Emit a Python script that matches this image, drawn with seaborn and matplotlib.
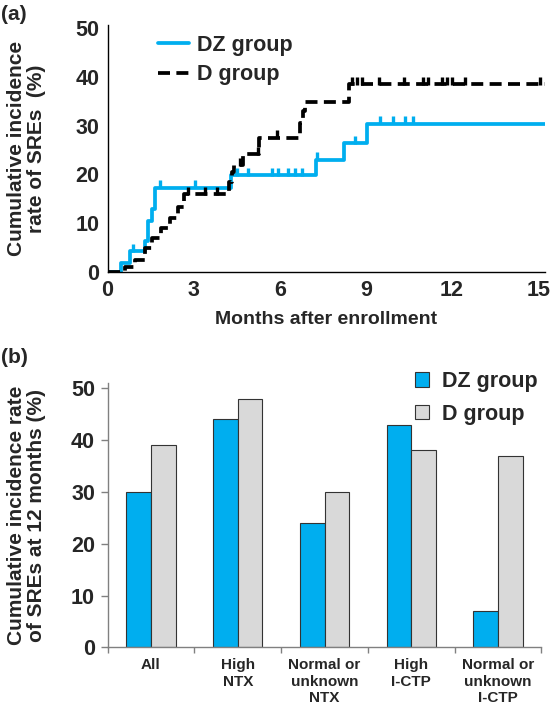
import numpy as np
import pandas as pd
import matplotlib
matplotlib.use("Agg")
import matplotlib.pyplot as plt
import seaborn as sns
from matplotlib.ticker import MultipleLocator, FixedLocator

# (a) cumulative incidence step curves (months, %)
dz_t = [0, 0.48, 0.77, 1.29, 1.40, 1.53, 1.65, 4.30, 7.25, 8.24, 9.04, 15.24]
dz_y = [0, 1.8, 4.2, 6.4, 10.5, 12.9, 17.3, 19.8, 23.0, 26.4, 30.4, 30.4]
d_t = [0, 0.60, 0.97, 1.29, 1.55, 1.85, 2.16, 2.45, 2.65, 4.24, 4.33, 4.42, 4.73,
       5.28, 6.70, 6.80, 6.88, 8.42, 15.24]
d_y = [0, 1.0, 2.4, 4.8, 7.0, 8.9, 11.1, 13.3, 15.9, 18.5, 20.5, 21.9, 24.1,
       27.5, 30.5, 33.0, 34.8, 38.5, 38.5]

# censored observations
dz_cens_t = [0.90, 1.83, 3.05, 4.50, 4.90, 5.72, 5.95, 6.30, 6.53, 6.76, 7.29,
             8.62, 9.49, 9.95, 10.36, 10.65]
dz_cens_y = [4.2, 17.3, 17.3, 19.8, 19.8, 19.8, 19.8, 19.8, 19.8, 19.8, 23.0,
             26.4, 30.4, 30.4, 30.4, 30.4]
d_cens_t = [2.81, 3.39, 3.80, 4.60, 5.24, 5.90, 8.50, 8.68, 8.85, 9.47, 10.33,
            10.99, 11.17, 11.64, 11.82, 11.99, 12.45, 15.05]
d_cens_y = [15.9, 15.9, 15.9, 21.9, 24.1, 27.5, 38.5, 38.5, 38.5, 38.5, 38.5,
            38.5, 38.5, 38.5, 38.5, 38.5, 38.5, 38.5]

# (b) cumulative incidence at 12 months by subgroup
categories = ["All", "High\nNTX", "Normal or\nunknown\nNTX", "High\nI-CTP",
              "Normal or\nunknown\nI-CTP"]
dz_rate = [30, 44, 24, 43, 7]
d_rate = [39, 48, 30, 38, 37]

blue = "#00AEEF"
grey = "#D9D9D9"

sns.set_theme(style="white")
plt.rcParams["font.family"] = ["Liberation Sans", "DejaVu Sans"]
plt.rcParams["font.weight"] = "bold"
plt.rcParams["axes.labelweight"] = "bold"

fig = plt.figure(figsize=(5.53, 7.09), dpi=100)
ax1 = fig.add_axes([0.1946, 0.6168, 0.791, 0.3479])
ax2 = fig.add_axes([0.1946, 0.0870, 0.7845, 0.3724])

# ---- panel (a)
sns.lineplot(x=dz_t, y=dz_y, ax=ax1, color=blue, lw=2.7, drawstyle="steps-post",
             label="DZ group")
sns.lineplot(x=d_t, y=d_y, ax=ax1, color="black", lw=2.7, drawstyle="steps-post",
             linestyle=(0, (3.2, 1.7)), label="D group")
ax1.plot(dz_cens_t, np.array(dz_cens_y) + 0.7, ls="none", marker="|", ms=6,
         mew=2.4, color=blue)
ax1.plot(d_cens_t, np.array(d_cens_y) + 0.7, ls="none", marker="|", ms=6,
         mew=2.4, color="black")

ax1.set_xlim(0, 15.24)
ax1.set_ylim(0, 50.7)
ax1.xaxis.set_major_locator(MultipleLocator(3))
ax1.yaxis.set_major_locator(MultipleLocator(10))
ax1.tick_params(direction="in", length=4, width=1, labelsize=15.5, color="black",
                pad=6)
for s in ["top", "right"]:
    ax1.spines[s].set_visible(False)
for s in ["left", "bottom"]:
    ax1.spines[s].set_color("black")
    ax1.spines[s].set_linewidth(1)
ax1.set_xlabel("Months after enrollment", fontsize=14, labelpad=7)
ax1.set_ylabel("Cumulative incidence\nrate of SREs  (%)", fontsize=15,
               linespacing=1.1)
ax1.yaxis.set_label_coords(-0.14, 0.5)
ax1.legend(loc="upper left", bbox_to_anchor=(0.07, 1.04), frameon=False,
           fontsize=15.5, handlelength=1.45, handletextpad=0.4, labelspacing=0.4)

# ---- panel (b)
df = pd.DataFrame({
    "category": categories * 2,
    "group": ["DZ group"] * len(categories) + ["D group"] * len(categories),
    "rate": dz_rate + d_rate,
})
sns.barplot(data=df, x="category", y="rate", hue="group", ax=ax2,
            palette=[blue, grey], width=0.57, edgecolor="#333333", linewidth=0.8,
            saturation=1)
ax2.set_xlim(-0.5, len(categories) - 0.5)
ax2.set_ylim(0, 50.97)
ax2.yaxis.set_major_locator(MultipleLocator(10))
ax2.tick_params(axis="y", direction="out", length=5, width=1, labelsize=15.5,
                color="#808080", left=True, pad=4)
ax2.tick_params(axis="x", which="major", length=0, labelsize=11, pad=8)
ax2.xaxis.set_minor_locator(FixedLocator(np.arange(-0.5, len(categories), 1.0)))
ax2.tick_params(axis="x", which="minor", direction="out", length=4, width=1,
                color="#808080", bottom=True)
for lbl in ax2.get_xticklabels():
    lbl.set_linespacing(1.2)
for s in ["top", "right"]:
    ax2.spines[s].set_visible(False)
for s in ["left", "bottom"]:
    ax2.spines[s].set_color("#808080")
    ax2.spines[s].set_linewidth(1)
ax2.set_xlabel("")
ax2.set_ylabel("Cumulative incidence rate\nof SREs at 12 months (%)", fontsize=15,
               linespacing=1.1)
ax2.yaxis.set_label_coords(-0.142, 0.5)
ax2.legend(loc="upper right", bbox_to_anchor=(1.035, 1.12), frameon=False,
           fontsize=15.5, handlelength=0.65, handleheight=0.65, handletextpad=0.6,
           labelspacing=0.55)

fig.text(0.002, 1 - 5 / 709, "(a)", fontsize=15, fontweight="bold", va="top")
fig.text(0.002, 1 - 348 / 709, "(b)", fontsize=15, fontweight="bold", va="top")

fig.savefig("out.png", dpi=100)
